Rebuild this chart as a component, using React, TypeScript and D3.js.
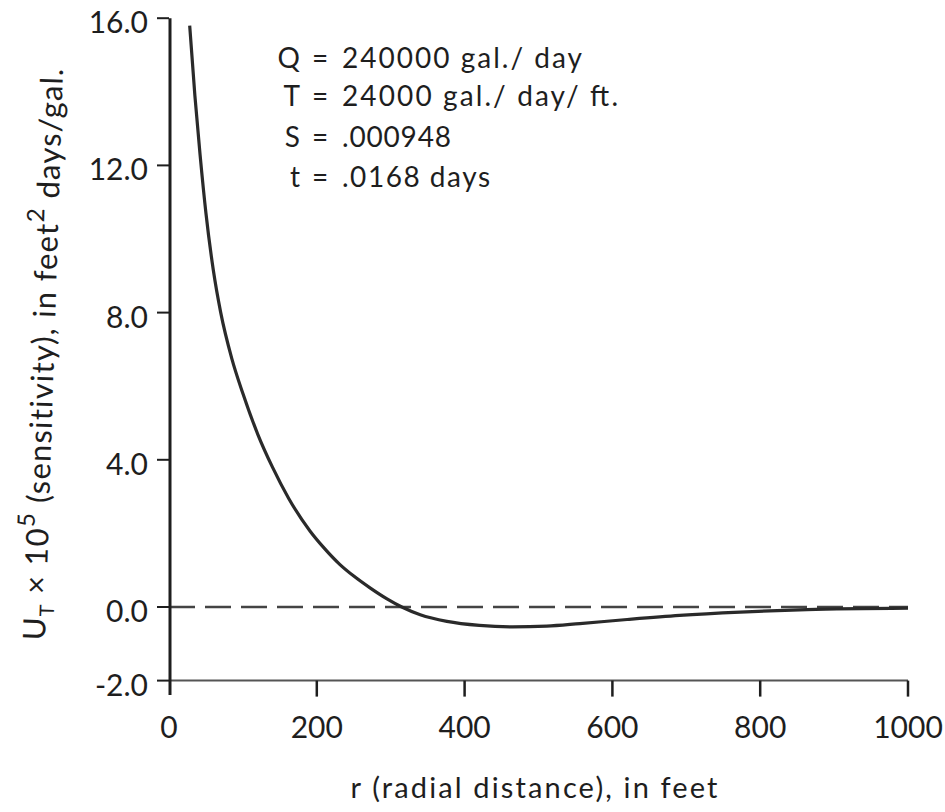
import React from 'react';
import * as d3 from 'd3';

// radial distance r (feet) and sensitivity U_T x 10^5
const rValues = [28, 35, 42, 50, 60, 70, 85, 100, 120, 140, 162, 191, 210, 231, 250, 272, 295, 315, 340, 376, 420, 465, 511, 556, 620, 691, 773, 863, 1000];
const uValues = [15.8, 13.9, 12.3, 10.7, 9.15, 8.0, 6.75, 5.8, 4.7, 3.8, 2.95, 2.06, 1.6, 1.16, 0.84, 0.52, 0.22, 0, -0.21, -0.39, -0.5, -0.54, -0.52, -0.45, -0.34, -0.23, -0.14, -0.07, -0.03];

const yTicks = [16, 12, 8, 4, 0, -2];
const xTicks = [0, 200, 400, 600, 800, 1000];

const paramNames = ['Q', 'T', 'S', 't'];
const paramValues = ['240000 gal./ day', '24000 gal./ day/ ft.', '.000948', '.0168 days'];

const W = 945;
const H = 812;
const font = 'Lato, "Open Sans", sans-serif';
const ink = '#1e1e1e';

const App = () => {
  const x = d3.scaleLinear().domain([0, 1000]).range([169, 908]);
  const y = d3.scaleLinear().domain([-2, 16]).range([680.6, 18.2]);

  const pts = rValues.map((r, i) => [r, uValues[i]] as [number, number]);
  const line = d3
    .line<[number, number]>()
    .x(d => x(d[0]))
    .y(d => y(d[1]))
    .curve(d3.curveMonotoneX);

  const axisBottom = y(-2);
  const rowY = [68, 106, 147, 187];
  const valueLen = [240, 276, 109, 148];

  return (
    <svg
      width={W}
      height={H}
      style={{ position: 'absolute', left: 0, top: 0, display: 'block', background: '#fff' }}
      fontFamily={font}
    >
      {/* zero reference */}
      <line
        x1={x(0)}
        x2={x(1000)}
        y1={y(0)}
        y2={y(0)}
        stroke="#444"
        strokeWidth={2.5}
        strokeDasharray="26 10"
      />

      {/* x axis at -2 */}
      <line x1={x(0)} x2={x(1000)} y1={axisBottom} y2={axisBottom} stroke="#555" strokeWidth={2} />
      {xTicks.filter(t => t > 0).map(t => (
        <line key={t} x1={x(t)} x2={x(t)} y1={axisBottom} y2={axisBottom + 16} stroke={ink} strokeWidth={2.5} />
      ))}
      {xTicks.map(t => (
        <text key={t} x={x(t)} y={738} textAnchor="middle" fontSize={30} fill={ink}>
          {t}
        </text>
      ))}

      {/* y axis */}
      <line x1={x(0) + 1} x2={x(0) + 1} y1={y(16)} y2={695} stroke={ink} strokeWidth={3} />
      {yTicks.map(t => (
        <g key={t}>
          <line x1={x(0) - 12} x2={x(0)} y1={y(t)} y2={y(t)} stroke={ink} strokeWidth={2} />
          <text x={148} y={y(t) + 15} textAnchor="end" fontSize={30} fill={ink}>
            {t.toFixed(1)}
          </text>
        </g>
      ))}

      {/* curve */}
      <path d={line(pts) ?? ''} fill="none" stroke="#2a2a2a" strokeWidth={3.2} />

      {/* parameters */}
      {paramNames.map((p, i) => (
        <g key={p} fontSize={28} fill={ink}>
          <text x={300} y={rowY[i]} textAnchor="end">{p}</text>
          <text x={320} y={rowY[i]} textAnchor="middle">=</text>
          <text x={342} y={rowY[i]} textLength={valueLen[i]} lengthAdjust="spacing">
            {paramValues[i]}
          </text>
        </g>
      ))}

      {/* axis titles */}
      <text x={534} y={798} textAnchor="middle" fontSize={29} fill={ink} textLength={367} lengthAdjust="spacing">
        r (radial distance), in feet
      </text>
      <text
        transform="translate(54,354) rotate(-88.2)"
        textAnchor="middle"
        fontSize={31}
        letterSpacing={1.2}
        fill={ink}
      >
        U<tspan dy={8} fontSize={20}>T</tspan>
        <tspan dy={-8}> × 10</tspan>
        <tspan dy={-14} fontSize={24}>5</tspan>
        <tspan dy={14}> (sensitivity), in feet</tspan>
        <tspan dy={-14} fontSize={24}>2</tspan>
        <tspan dy={14}> days/gal.</tspan>
      </text>
    </svg>
  );
};

export default App;
